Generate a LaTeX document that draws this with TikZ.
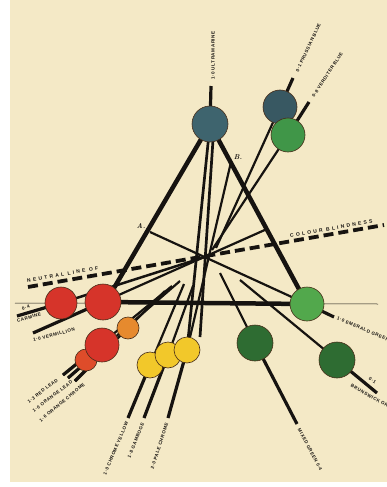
\documentclass[tikz,border=0pt]{standalone}
\usepackage{fontspec}
\usetikzlibrary{calc}
\newfontfamily\labfont[LetterSpace=12]{Liberation Sans}
\newfontfamily\wlabfont[LetterSpace=45]{Liberation Sans}
\definecolor{paperc}{RGB}{244,233,198}
\definecolor{inkc}{RGB}{22,19,16}
\definecolor{rimc}{RGB}{70,45,25}
\definecolor{ultrac}{RGB}{62,100,110}
\definecolor{prussc}{RGB}{56,88,98}
\definecolor{verdc}{RGB}{64,150,72}
\definecolor{redc}{RGB}{214,52,42}
\definecolor{orangec}{RGB}{230,138,46}
\definecolor{ochromec}{RGB}{222,76,42}
\definecolor{yellowc}{RGB}{242,200,42}
\definecolor{emeraldc}{RGB}{82,168,76}
\definecolor{dgreenc}{RGB}{46,108,50}
\begin{document}
\begin{tikzpicture}[x=1pt,y=-1pt,
  ink/.style={draw=inkc, line cap=butt},
  edgeline/.style={ink, line width=4.5pt},
  apexline/.style={ink, line width=2.7pt},
  chord/.style={ink, line width=2.2pt},
  stemline/.style={ink, line width=3.2pt},
  dashline/.style={ink, line width=3.8pt, dash pattern=on 10pt off 5pt},
  disc/.style={circle, inner sep=0pt, draw=rimc, line width=0.6pt},
  lab/.style={font=\labfont\bfseries\fontsize{4.6}{5}\selectfont, inner sep=0pt, text=inkc},
  wlab/.style={font=\wlabfont\bfseries\fontsize{5}{5}\selectfont, inner sep=0pt, text=inkc},
  letterlab/.style={font=\bfseries\itshape\fontsize{7}{7}\selectfont, inner sep=0pt, text=inkc}]
\useasboundingbox (0,0) rectangle (387,487);
\fill[white] (0,0) rectangle (387,487);
\fill[paperc] (10,0) rectangle (387,482);

% circle centres
\coordinate (cU) at (210,124);
\coordinate (cP) at (280,107);
\coordinate (cV) at (288,135);
\coordinate (cCa) at (61,303);
\coordinate (cVe) at (103,302);
\coordinate (cO) at (128,328);
\coordinate (cRL) at (102,345);
\coordinate (cOC) at (86,360);
\coordinate (cY1) at (150,365);
\coordinate (cY2) at (168,355);
\coordinate (cY3) at (187,350);
\coordinate (cE) at (307,304);
\coordinate (cG1) at (255,343);
\coordinate (cG2) at (337,360);

% other points
\coordinate (N) at (208,256);
\coordinate (A) at (150,232);
\coordinate (B) at (231,162);
\coordinate (vL) at (107,300);
\coordinate (R1) at (267,229);
\coordinate (u2top) at (213,140);
\coordinate (u2) at (200,337);
\coordinate (hl) at (15,303);
\coordinate (hr) at (378,304);
\coordinate (d1) at (28,287);
\coordinate (d2) at (384,225);
\coordinate (sU) at (211,86);
\coordinate (sP) at (293,78);
\coordinate (pe) at (216,248);
\coordinate (sV) at (309,102);
\coordinate (ve) at (212,250);
\coordinate (sCa) at (17,316);
\coordinate (sVe) at (33,333);
\coordinate (sE) at (334,317);
\coordinate (g1a) at (220,273);
\coordinate (sG1) at (297,424);
\coordinate (g2a) at (240,280);
\coordinate (sG2) at (377,393);
\coordinate (sY1) at (128,418);
\coordinate (eY1) at (184,284);
\coordinate (sY2) at (144,418);
\coordinate (eY2) at (193,286);
\coordinate (sY3) at (168,418);
\coordinate (sL1) at (63,375);
\coordinate (eL1) at (172,286);
\coordinate (sL2) at (68,378);
\coordinate (eL2) at (180,281);
\coordinate (sL3) at (75,381);
\coordinate (eL3) at (165,291);

% thin base line
\draw[draw=inkc, line width=0.5pt] (hl) -- (hr);

% chords and stems
\draw[stemline] (sU) -- (cU);
\draw[stemline] (sP) -- (cP);
\draw[chord] (cP) -- (pe);
\draw[stemline] (sV) -- (cV);
\draw[chord] (cV) -- (ve);
\draw[stemline] (sCa) -- (cCa);
\draw[chord, line width=2.5pt] (cCa) -- (N);
\draw[stemline] (sVe) -- (cVe);
\draw[chord] (cVe) -- (R1);
\draw[chord] (A) -- (cE);
\draw[stemline] (cE) -- (sE);
\draw[chord] (g1a) -- (cG1);
\draw[stemline] (cG1) -- (sG1);
\draw[chord] (g2a) -- (cG2);
\draw[stemline] (cG2) -- (sG2);
\draw[stemline] (sY1) -- (cY1);
\draw[chord] (cY1) -- (eY1);
\draw[stemline] (sY2) -- (cY2);
\draw[chord] (cY2) -- (eY2);
\draw[chord] (B) -- (cY3);
\draw[stemline] (cY3) -- (sY3);
\draw[chord] (sL1) -- (eL1);
\draw[chord] (sL2) -- (eL2);
\draw[chord] (sL3) -- (eL3);
\draw[stemline] (sL1) -- ($(sL1)!0.2!(eL1)$);
\draw[stemline] (sL2) -- ($(sL2)!0.2!(eL2)$);
\draw[stemline] (sL3) -- ($(sL3)!0.2!(eL3)$);
\draw[apexline] (cU) -- (cY3);
\draw[apexline] (u2top) -- (u2);

% triangle
\draw[edgeline] (cU) -- (vL);
\draw[edgeline] (cU) -- (cE);
\draw[edgeline] (cVe) -- (cE);

% neutral line
\draw[dashline] (d1) -- (d2);

% discs
\node[disc, fill=ultrac, minimum size=36pt] (U) at (cU) {};
\node[disc, fill=prussc, minimum size=34pt] (P) at (cP) {};
\node[disc, fill=verdc, minimum size=34pt] (V) at (cV) {};
\node[disc, fill=redc, minimum size=32pt] (Ca) at (cCa) {};
\node[disc, fill=redc, minimum size=36pt] (Ve) at (cVe) {};
\node[disc, fill=orangec, minimum size=22pt] (O) at (cO) {};
\node[disc, fill=ochromec, minimum size=22pt] (OC) at (cOC) {};
\node[disc, fill=redc, minimum size=34pt] (RL) at (cRL) {};
\node[disc, fill=yellowc, minimum size=26pt] (Y1) at (cY1) {};
\node[disc, fill=yellowc, minimum size=26pt] (Y2) at (cY2) {};
\node[disc, fill=yellowc, minimum size=26pt] (Y3) at (cY3) {};
\node[disc, fill=emeraldc, minimum size=34pt] (E) at (cE) {};
\node[disc, fill=dgreenc, minimum size=36pt] (G1) at (cG1) {};
\node[disc, fill=dgreenc, minimum size=36pt] (G2) at (cG2) {};

% labels
\node[lab, anchor=west, rotate=90] (tU) at (213,80) {1·0 ULTRAMARINE};
\node[lab, anchor=west, rotate=65] (tP) at (297,72) {0·1 PRUSSIAN BLUE};
\node[lab, anchor=west, rotate=57] (tV) at (313,97) {0·8 VERDITER BLUE};
\node[lab, anchor=west, rotate=-23] (tE) at (337,318) {1·0 EMERALD GREEN};
\node[lab, anchor=west, rotate=-35] (tG2a) at (369,378) {0·1};
\node[lab, anchor=west, rotate=-30] (tG2) at (351,385) {BRUNSWICK GREEN};
\node[lab, anchor=west, rotate=-62] (tG1) at (299,429) {MIXED GREEN 0·4};
\node[lab, anchor=east, rotate=67] (tY1) at (127,422) {1·0 CHROME YELLOW};
\node[lab, anchor=east, rotate=68] (tY2) at (143,423) {1·8 GAMBOGE};
\node[lab, anchor=east, rotate=72] (tY3) at (167,423) {2·0 PALE CHROME};
\node[lab, anchor=west, rotate=37] (tRL) at (28,402) {1·3 RED LEAD};
\node[lab, anchor=west, rotate=37] (tO) at (33,411) {1·0 ORANGE LEAD};
\node[lab, anchor=west, rotate=40] (tOC) at (40,421) {1·6 ORANGE CHROME};
\node[lab, anchor=west, rotate=19] (tCa1) at (22,309) {0·4};
\node[lab, anchor=west, rotate=17] (tCa) at (17,321) {CARMINE};
\node[lab, anchor=west, rotate=14] (tVe) at (33,340) {1·0 VERMILLION};
\node[wlab, anchor=west, rotate=10] (tN1) at (27,281) {NEUTRAL LINE OF};
\node[wlab, anchor=west, rotate=10] (tN2) at (290,236) {COLOUR BLINDNESS};
\node[letterlab] (tA) at (141,226) {A.};
\node[letterlab] (tB) at (238,157) {B.};
\node[lab, font=\labfont\bfseries\fontsize{3.5}{4}\selectfont] (tNp) at (216,247) {N};
\end{tikzpicture}
\end{document}
